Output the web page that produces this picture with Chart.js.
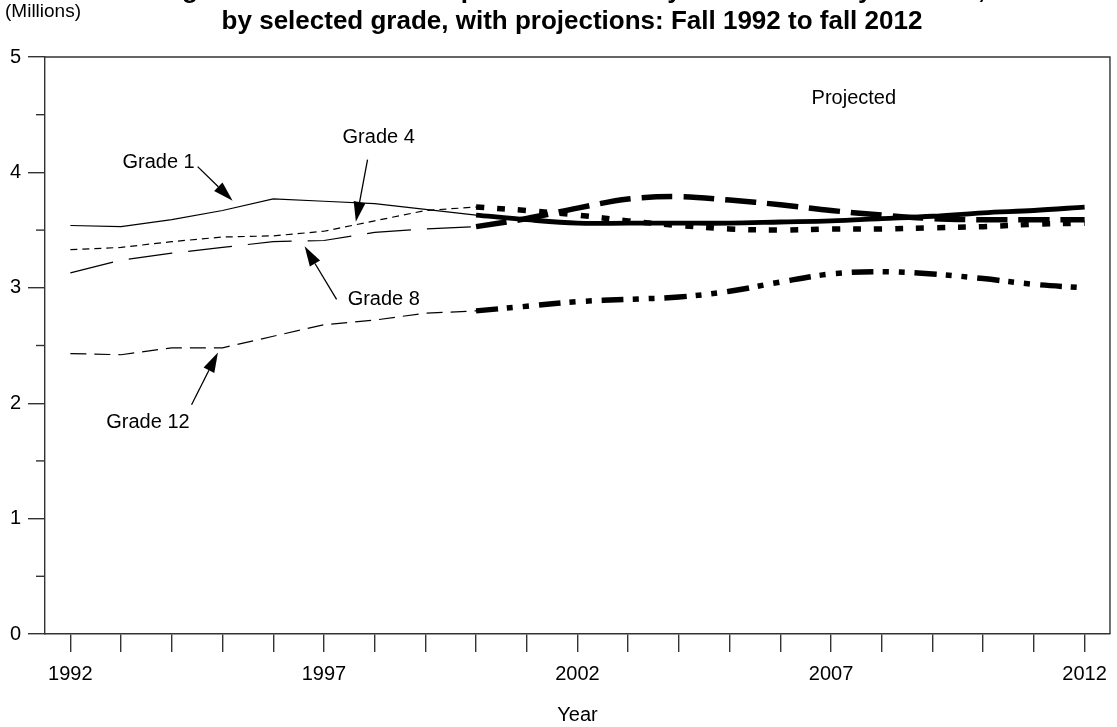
<!DOCTYPE html>
<html>
<head>
<meta charset="utf-8">
<script src="https://cdn.jsdelivr.net/npm/chart.js@4.4.1/dist/chart.umd.min.js"></script>
<style>
  html, body { margin: 0; padding: 0; background: #fff; }
  canvas { display: block; }
</style>
</head>
<body>
<canvas id="chart" width="1117" height="727"></canvas>
<script>
// years (actual up to 2000, projected from 2000)
const histYears = [1992, 1993, 1994, 1995, 1996, 1997, 1998, 1999, 2000];
const projYears = [2000, 2001, 2002, 2003, 2004, 2005, 2006, 2007, 2008, 2009, 2010, 2011, 2012];
const tickYears = [1992, 1993, 1994, 1995, 1996, 1997, 1998, 1999, 2000, 2001, 2002,
                   2003, 2004, 2005, 2006, 2007, 2008, 2009, 2010, 2011, 2012];
const labelYears = [1992, 1997, 2002, 2007, 2012];
const yMajor = [0, 1, 2, 3, 4, 5];
const yMinor = [0.5, 1.5, 2.5, 3.5, 4.5];

// enrollment, millions
const grade1Hist = [3.54, 3.53, 3.59, 3.67, 3.77, 3.75, 3.73, 3.68, 3.63];
const grade1Proj = [3.63, 3.59, 3.56, 3.56, 3.56, 3.56, 3.57, 3.58, 3.60, 3.62, 3.65, 3.67, 3.70];
const grade4Hist = [3.33, 3.35, 3.40, 3.44, 3.45, 3.49, 3.58, 3.67, 3.70];
const grade4Proj = [3.70, 3.67, 3.63, 3.58, 3.54, 3.51, 3.50, 3.51, 3.51, 3.52, 3.53, 3.55, 3.56];
const grade8Hist = [3.13, 3.24, 3.30, 3.35, 3.40, 3.41, 3.48, 3.51, 3.53];
const grade8Proj = [3.53, 3.60, 3.69, 3.77, 3.79, 3.76, 3.72, 3.67, 3.63, 3.60, 3.59, 3.59, 3.59];
const grade12Hist = [2.43, 2.42, 2.48, 2.48, 2.58, 2.68, 2.72, 2.78, 2.80];
const grade12Proj = [2.80, 2.84, 2.88, 2.90, 2.92, 2.97, 3.05, 3.12, 3.14, 3.12, 3.08, 3.03, 3.00];

// text labels with arrows (data coordinates)
const notes = [
  { text: "Grade 1", x: 1993.74, y: 4.09, from: [1994.51, 4.05], to: [1995.20, 3.755] },
  { text: "Grade 4", x: 1998.08, y: 4.30, from: [1997.86, 4.11], to: [1997.63, 3.573] },
  { text: "Grade 8", x: 1998.18, y: 2.90, from: [1997.25, 2.90], to: [1996.62, 3.359] },
  { text: "Grade 12", x: 1993.53, y: 1.83, from: [1994.39, 1.986], to: [1994.91, 2.44] },
  { text: "Projected", x: 2007.45, y: 4.64 },
];

const FONT = "Arial, 'Liberation Sans', sans-serif";

function pts(years, vals) {
  return years.map((yr, i) => ({ x: yr, y: vals[i] }));
}

function line(vals, years, width, dash, tension) {
  return {
    data: pts(years, vals),
    borderColor: "#000",
    borderWidth: width,
    borderDash: dash,
    borderCapStyle: "butt",
    pointRadius: 0,
    tension: tension,
    fill: false,
  };
}

const datasets = [
  line(grade1Hist, histYears, 1.2, [], 0),
  line(grade4Hist, histYears, 1.2, [7, 5], 0),
  line(grade8Hist, histYears, 1.2, [44, 16], 0),
  line(grade12Hist, histYears, 1.2, [16, 8], 0),
  line(grade1Proj, projYears, 4.8, [], 0.35),
  line(grade4Proj, projYears, 5.5, [8, 13], 0.35),
  line(grade8Proj, projYears, 5.5, [31, 11], 0.35),
  line(grade12Proj, projYears, 5.5, [22, 9, 6, 10, 6, 10], 0.35),
];

// frame, minor ticks, titles and arrows
const extras = {
  id: "extras",
  afterDraw(chart) {
    const { ctx, chartArea } = chart;
    const xs = chart.scales.x;
    const ys = chart.scales.y;

    ctx.save();
    ctx.strokeStyle = "#333";
    ctx.lineWidth = 1.4;
    ctx.beginPath();
    ctx.moveTo(chartArea.left, chartArea.top);
    ctx.lineTo(chartArea.right, chartArea.top);
    ctx.lineTo(chartArea.right, chartArea.bottom);
    ctx.stroke();

    yMinor.forEach((v) => {
      const py = ys.getPixelForValue(v);
      ctx.beginPath();
      ctx.moveTo(chartArea.left - 9, py);
      ctx.lineTo(chartArea.left, py);
      ctx.stroke();
    });

    // titles
    ctx.fillStyle = "#000";
    ctx.textAlign = "center";
    ctx.textBaseline = "alphabetic";
    ctx.font = "bold 26px " + FONT;
    ctx.fillText("Figure 11. Enrollment in public elementary and secondary schools,", 572, -2);
    ctx.fillText("by selected grade, with projections: Fall 1992 to fall 2012", 572, 29);
    ctx.textAlign = "left";
    ctx.font = "19px " + FONT;
    ctx.fillText("(Millions)", 5, 17);

    // notes
    ctx.font = "20px " + FONT;
    ctx.textAlign = "center";
    ctx.textBaseline = "middle";
    notes.forEach((n) => {
      ctx.fillText(n.text, xs.getPixelForValue(n.x), ys.getPixelForValue(n.y));
      if (!n.from) return;
      const x1 = xs.getPixelForValue(n.from[0]);
      const y1 = ys.getPixelForValue(n.from[1]);
      const x2 = xs.getPixelForValue(n.to[0]);
      const y2 = ys.getPixelForValue(n.to[1]);
      const ang = Math.atan2(y2 - y1, x2 - x1);
      const len = 20, half = 6;
      const bx = x2 - len * Math.cos(ang);
      const by = y2 - len * Math.sin(ang);
      ctx.lineWidth = 1.3;
      ctx.strokeStyle = "#000";
      ctx.beginPath();
      ctx.moveTo(x1, y1);
      ctx.lineTo(bx, by);
      ctx.stroke();
      ctx.beginPath();
      ctx.moveTo(x2, y2);
      ctx.lineTo(bx + half * Math.sin(ang), by - half * Math.cos(ang));
      ctx.lineTo(bx - half * Math.sin(ang), by + half * Math.cos(ang));
      ctx.closePath();
      ctx.fill();
    });
    ctx.restore();
  },
};

new Chart(document.getElementById("chart"), {
  type: "line",
  data: { datasets },
  options: {
    responsive: false,
    animation: false,
    layout: { padding: { top: 57, right: 6, left: 0, bottom: 0 } },
    plugins: { legend: { display: false }, tooltip: { enabled: false } },
    scales: {
      x: {
        type: "linear",
        min: 1991.5,
        max: 2012.5,
        afterBuildTicks: (axis) => { axis.ticks = tickYears.map((v) => ({ value: v })); },
        afterFit: (axis) => { axis.height = 93; },
        ticks: {
          autoSkip: false,
          maxRotation: 0,
          padding: 10,
          color: "#000",
          font: { family: FONT, size: 20 },
          callback: (v) => (labelYears.includes(v) ? String(v) : ""),
        },
        grid: { drawOnChartArea: false, tickLength: 18, color: "#333", lineWidth: 1.4 },
        border: { display: true, color: "#333", width: 1.4 },
        title: {
          display: true,
          text: "Year",
          color: "#000",
          font: { family: FONT, size: 20 },
          padding: { top: 0, bottom: 0 },
        },
      },
      y: {
        min: 0,
        max: 5,
        afterBuildTicks: (axis) => { axis.ticks = yMajor.map((v) => ({ value: v })); },
        afterFit: (axis) => { axis.width = 45; },
        ticks: {
          padding: 7,
          color: "#000",
          font: { family: FONT, size: 20 },
        },
        grid: { drawOnChartArea: false, tickLength: 17, color: "#333", lineWidth: 1.4 },
        border: { display: true, color: "#333", width: 1.4 },
      },
    },
  },
  plugins: [extras],
});
</script>
</body>
</html>
